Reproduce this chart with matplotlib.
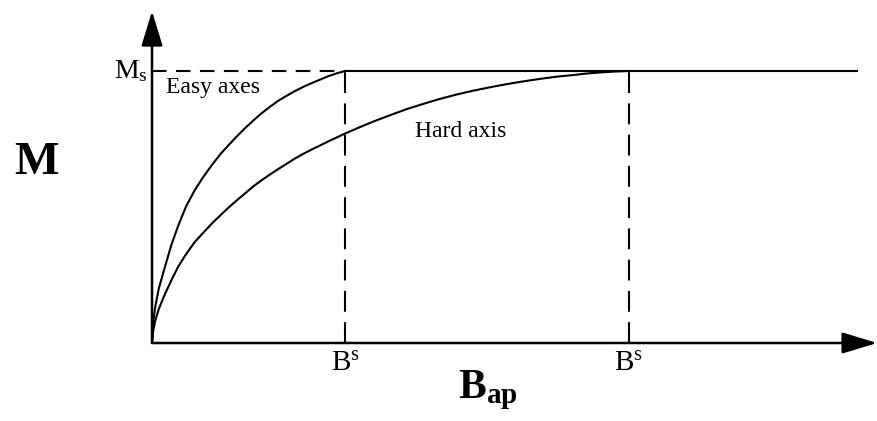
import matplotlib
matplotlib.use('Agg')
from matplotlib import pyplot as plt

plt.rcParams['font.family'] = ['Liberation Serif', 'DejaVu Serif']
plt.rcParams['mathtext.fontset'] = 'custom'
plt.rcParams['mathtext.rm'] = 'Liberation Serif'
plt.rcParams['mathtext.bf'] = 'Liberation Serif:bold'

# field in units of the easy-axis saturation field, M in units of Ms
easy_b = [0, 0.005, 0.016, 0.035, 0.067, 0.10, 0.135, 0.175, 0.22, 0.265, 0.311, 0.355,
          0.40, 0.44, 0.482, 0.525, 0.565, 0.61, 0.653, 0.70, 0.74, 0.785, 0.829, 0.87,
          0.91, 0.955, 1.0]
easy_m = [0, 0.07, 0.13, 0.20, 0.28, 0.36, 0.43, 0.50, 0.56, 0.61, 0.655, 0.695,
          0.73, 0.76, 0.79, 0.818, 0.843, 0.868, 0.89, 0.91, 0.926, 0.942, 0.956, 0.968,
          0.98, 0.991, 1.0]

hard_b = [0, 0.005, 0.016, 0.035, 0.067, 0.10, 0.135, 0.175, 0.22, 0.265, 0.311, 0.355,
          0.40, 0.44, 0.482, 0.525, 0.565, 0.61, 0.653, 0.70, 0.74, 0.785, 0.829, 0.87,
          0.91, 0.955, 1.0, 1.075, 1.15, 1.235, 1.32, 1.405, 1.49, 1.575, 1.66, 1.75,
          1.84, 1.925, 2.01, 2.095, 2.18, 2.255, 2.33, 2.40, 2.47]
hard_m = [0, 0.04, 0.08, 0.125, 0.18, 0.23, 0.28, 0.325, 0.37, 0.405, 0.44, 0.47,
          0.50, 0.525, 0.55, 0.576, 0.597, 0.619, 0.639, 0.66, 0.678, 0.696, 0.712, 0.726,
          0.740, 0.755, 0.77, 0.793, 0.815, 0.838, 0.86, 0.879, 0.897, 0.913, 0.927, 0.94,
          0.952, 0.962, 0.971, 0.979, 0.985, 0.991, 0.995, 0.998, 1.0]

bs_easy = easy_b[-1]
bs_hard = hard_b[-1]
ms = 1.0
b_end = 3.65
x_max = 3.756
y_max = 1.22

fig = plt.figure(figsize=(8.77, 4.21), dpi=100)
ax = fig.add_axes([0, 0, 1, 1])
ax.set_xlim(-0.7876, x_max)
ax.set_ylim(-0.2868, 1.261)
ax.axis('off')

lw = 1.5
arrow = dict(arrowstyle='-|>,head_length=1.8,head_width=0.55', lw=1.8, color='k',
             mutation_scale=12, shrinkA=0, shrinkB=0)
ax.annotate('', xy=(0, y_max), xytext=(0, 0), arrowprops=arrow)
ax.annotate('', xy=(x_max, 0), xytext=(0, 0), arrowprops=arrow)

# saturation level
ax.plot([0, bs_easy], [ms, ms], color='k', lw=lw, dashes=(7, 4.5))
ax.plot([bs_easy, b_end], [ms, ms], color='k', lw=lw)
for b in (bs_easy, bs_hard):
    ax.plot([b, b], [0, ms], color='k', lw=lw, dashes=(10, 5))

ax.plot(easy_b, easy_m, color='k', lw=lw)
ax.plot(hard_b, hard_m, color='k', lw=lw)

ax.text(0.07, 0.94, 'Easy axes', fontsize=17, ha='left', va='center')
ax.text(1.6, 0.776, 'Hard axis', fontsize=17, ha='center', va='center')
ax.text(-0.02, ms, r'$\mathrm{M_s}$', fontsize=20, ha='right', va='center')
ax.text(-0.60, 0.66, 'M', fontsize=34, fontweight='bold', ha='center', va='center')
for b in (bs_easy, bs_hard):
    ax.text(b, -0.03, r'$\mathrm{B^s}$', fontsize=21, ha='center', va='top')
ax.text(1.74, -0.175, r'$\mathbf{B_{ap}}$', fontsize=30, ha='center', va='center')

fig.savefig('out.png', dpi=100)
